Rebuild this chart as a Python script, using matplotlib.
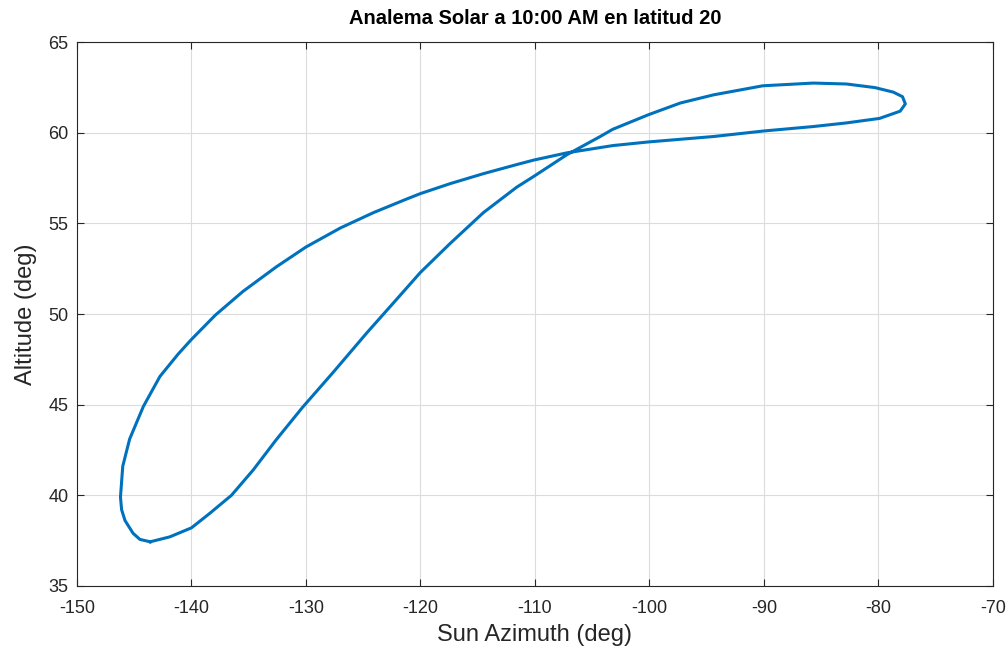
import matplotlib
matplotlib.use("Agg")
import matplotlib.pyplot as plt

# Analemma path (azimuth, altitude in degrees),
# traced once around the closed loop starting at the lowest point.
azimuth = [
    -143.6, -144.5, -145.1, -145.8, -146.1, -146.2, -146.0, -145.4, -144.2,
    -142.75, -141.15, -140.0, -137.9, -135.5, -132.6, -130.0, -127.0,
    -124.1, -121.2, -120.0, -117.4, -114.5, -111.6, -110.1, -107.2, -103.2,
    -100.1, -94.4, -90.1, -85.7, -82.8, -79.9, -78.1, -77.65, -77.9, -78.7,
    -80.3, -82.8, -85.7, -90.1, -94.4, -97.3, -100.1, -103.2, -104.3, -107.2,
    -110.1, -111.6, -114.5, -117.4, -120.0, -122.1, -124.7, -127.6, -130.3,
    -132.6, -134.6, -136.5, -138.4, -140.0, -141.9, -143.6,
]
altitude = [
    37.43, 37.56, 37.9, 38.6, 39.2, 39.9, 41.6, 43.1, 44.9,
    46.56, 47.8, 48.6, 49.95, 51.25, 52.6, 53.7, 54.75,
    55.6, 56.35, 56.65, 57.2, 57.75, 58.25, 58.5, 58.9, 59.3,
    59.5, 59.8, 60.1, 60.35, 60.55, 60.8, 61.2, 61.6, 62.0, 62.25,
    62.5, 62.7, 62.75, 62.6, 62.1, 61.65, 61.0, 60.2, 59.8, 58.8,
    57.6, 57.0, 55.6, 53.9, 52.3, 50.8, 48.95, 46.8, 44.85,
    43.06, 41.4, 40.0, 39.0, 38.2, 37.7, 37.43,
]

x_ticks = [-150, -140, -130, -120, -110, -100, -90, -80, -70]
y_ticks = [35, 40, 45, 50, 55, 60, 65]

plt.rcParams["font.family"] = ["Liberation Sans", "DejaVu Sans"]
plt.rcParams["axes.unicode_minus"] = False
text_color = "#262626"

fig = plt.figure(figsize=(10.06, 6.56), dpi=100)
ax = fig.add_axes([0.0765, 0.107, 0.9105, 0.8285])

ax.plot(azimuth, altitude, color="#0072BD", linewidth=2.2,
        solid_joinstyle="round")

ax.set_xlim(-150, -70)
ax.set_ylim(35, 65)
ax.set_xticks(x_ticks)
ax.set_yticks(y_ticks)
ax.grid(True, color="#dcdcdc", linewidth=0.8)
ax.set_axisbelow(True)

ax.tick_params(direction="in", top=True, right=True, length=5,
               labelsize=13, colors=text_color, width=0.8)
ax.tick_params(axis="x", pad=10)
ax.tick_params(axis="y", pad=6)
for spine in ax.spines.values():
    spine.set_color(text_color)
    spine.set_linewidth(0.8)

ax.set_xlabel("Sun Azimuth (deg)", fontsize=17, color=text_color, labelpad=5)
ax.set_ylabel("Altitude (deg)", fontsize=17, color=text_color, labelpad=8)
ax.set_title("Analema Solar a 10:00 AM en latitud 20", fontsize=14.5,
             fontweight="bold", color="black", pad=13)

fig.savefig("out.png", dpi=100)
